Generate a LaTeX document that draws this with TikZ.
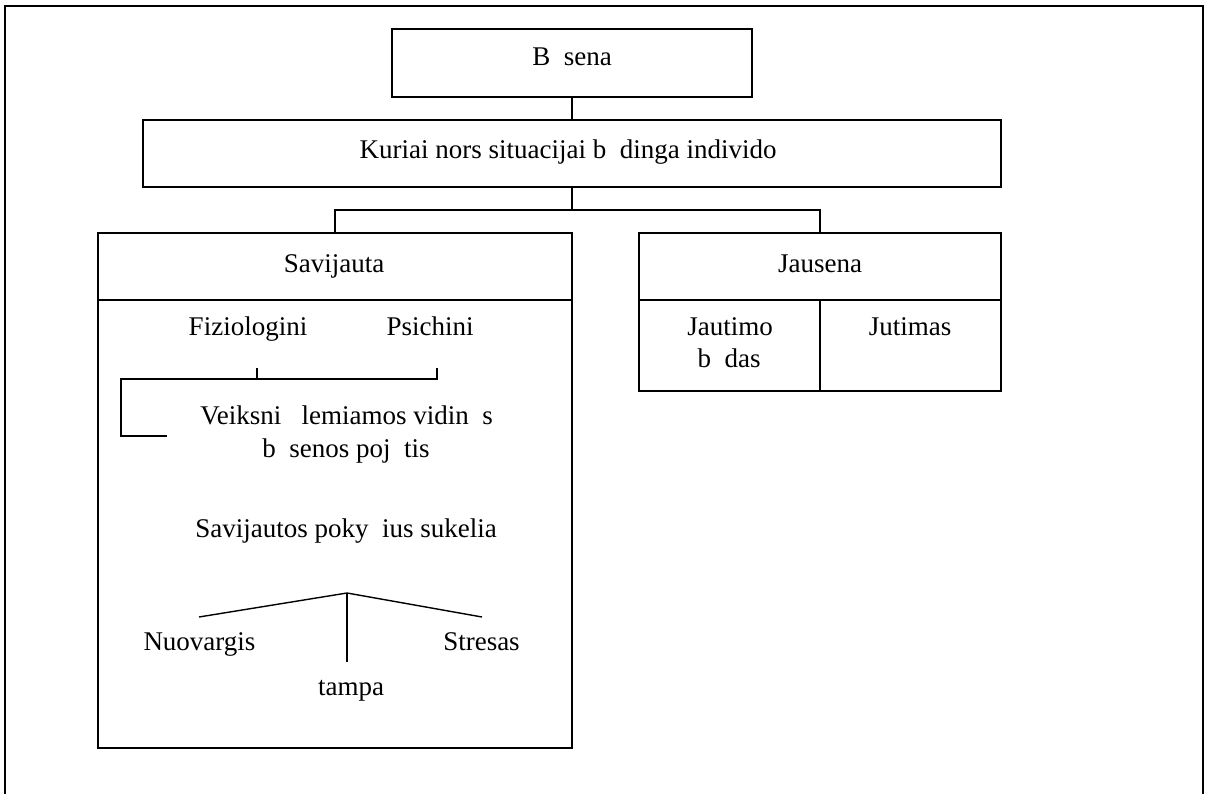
\documentclass[tikz,border=0pt]{standalone}
\usepackage{fontspec}
\setmainfont{Liberation Serif}
\begin{document}
\begin{tikzpicture}[x=1pt,y=-1pt,
  line width=1.4pt,
  box/.style={draw, rectangle, inner sep=0pt, line width=1.4pt},
  txt/.style={anchor=base, inner sep=0pt, font=\fontsize{27}{32}\selectfont},
  ln/.style={line width=1.4pt}]
\useasboundingbox (0,0) rectangle (1206,794);
% outer frame
\draw[line width=1.8pt] (5,794) -- (5,6) -- (1203,6) -- (1203,794);
% boxes
\node[box, minimum width=360pt, minimum height=68pt] (bsena) at (572,63) {};
\node[box, minimum width=858pt, minimum height=67pt] (kuriai) at (572,153.5) {};
\node[box, minimum width=474pt, minimum height=515pt] (savij) at (335,490.5) {};
\node[box, minimum width=362pt, minimum height=158pt] (jaus) at (820,312) {};
% dividers
\coordinate (sdl) at (98,300);
\coordinate (sdr) at (572,300);
\draw[ln] (sdl) -- (sdr);
\coordinate (jdl) at (639,300);
\coordinate (jdr) at (1001,300);
\coordinate (jdb) at (820,391);
\coordinate (jdt) at (820,300);
\draw[ln] (jdl) -- (jdr);
\draw[ln] (jdt) -- (jdb);
% connectors
\coordinate (fork) at (572,210);
\draw[ln] (bsena.south) -- (kuriai.north);
\draw[ln] (kuriai.south) -- (fork);
\draw[ln] (savij.north) |- (fork) -| (jaus.north);
% texts
\node[txt] (t1) at (572,66) {B\ \ sena};
\node[txt] (t2) at (568,159) {Kuriai nors situacijai b\ \ dinga individo};
\node[txt] (t3) at (334,272) {Savijauta};
\node[txt] (t4) at (820,272) {Jausena};
\node[txt] (fiz) at (248,335) {Fiziologini};
\node[txt] (psi) at (430,335) {Psichini};
\node[txt] (jau1) at (730,335) {Jautimo};
\node[txt] (jau2) at (729,367) {b\ \ das};
\node[txt] (jut) at (910,335) {Jutimas};
\node[txt] (vei1) at (346.5,424) {Veiksni\ \ \ lemiamos vidin\ \ s};
\node[txt] (vei2) at (346,457) {b\ \ senos poj\ \ tis};
\node[txt] (sav) at (346,537) {Savijautos poky\ \ ius sukelia};
\node[txt] (nuo) at (199.5,650) {Nuovargis};
\node[txt] (str) at (481.5,650) {Stresas};
\node[txt] (tam) at (351,695) {tampa};
% bracket
\coordinate (b1t) at (257,368);
\coordinate (b1b) at (257,379);
\coordinate (b2t) at (437,368);
\coordinate (b2b) at (437,379);
\coordinate (bl) at (121,379);
\coordinate (bll) at (121,436);
\coordinate (ble) at (167,436);
\draw[ln] (b1t) -- (b1b);
\draw[ln] (b2t) -- (b2b) -- (bl) -- (bll) -- (ble);
% tree
\coordinate (apex) at (347,593);
\coordinate (tl) at (199,617);
\coordinate (tr) at (482,617);
\coordinate (tb) at (347,662);
\draw[ln] (tl) -- (apex) -- (tr);
\draw[ln] (apex) -- (tb);
\end{tikzpicture}
\end{document}
